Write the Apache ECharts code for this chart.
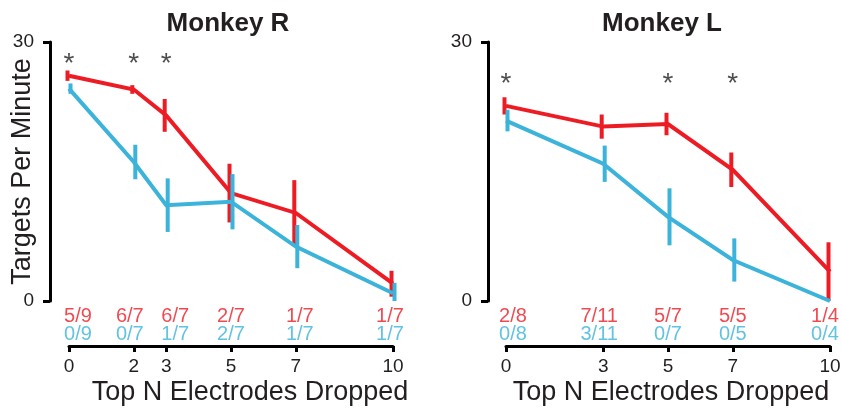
<!DOCTYPE html>
<html>
<head>
<meta charset="utf-8">
<script src="https://cdn.jsdelivr.net/npm/echarts@6/dist/echarts.min.js"></script>
<style>
  html, body { margin: 0; padding: 0; background: #fff; }
  #chart { width: 842px; height: 409px; }
</style>
</head>
<body>
<div id="chart"></div>
<script>
// Monkey R: targets per minute vs. number of top electrodes dropped
const xR = [0, 2, 3, 5, 7, 10];
const redR = [26.1, 24.5, 21.5, 12.5, 10.2, 2.0];
const redErrR = [0.6, 0.5, 1.9, 3.4, 3.8, 1.5];
const blueR = [24.6, 16.1, 11.1, 11.5, 6.3, 0.9];
const blueErrR = [0.6, 2.0, 3.1, 3.2, 2.5, 1.2];
const redCountR = ['5/9', '6/7', '6/7', '2/7', '1/7', '1/7'];
const blueCountR = ['0/9', '0/7', '1/7', '2/7', '1/7', '1/7'];
const sigR = [0, 2, 3];

// Monkey L
const xL = [0, 3, 5, 7, 10];
const redL = [22.6, 20.2, 20.5, 15.2, 3.4];
const redErrL = [1.0, 1.4, 1.3, 2.0, 3.4];
const blueL = [20.9, 15.9, 9.75, 4.75, 0.0];
const blueErrL = [1.25, 2.1, 3.3, 2.5, 0];
const redCountL = ['2/8', '7/11', '5/7', '5/5', '1/4'];
const blueCountL = ['0/8', '3/11', '0/7', '0/5', '0/4'];
const sigL = [0, 5, 7];

const yTicks = [0, 30];
const titles = ['Monkey R', 'Monkey L'];

const RED = '#ED1C24';
const BLUE = '#3BB3DA';
const INK = '#231F20';
const FONT = '"Liberation Sans", Arial, Helvetica, sans-serif';

// horizontal nudges for the count labels so neighbours don't collide
const nudgeR = [9, -4, 9, 0, 4, -3];
const nudgeL = [7, -4, 0, 0, -5];

function lineSeries(idx, xs, ys, color, z) {
  return {
    type: 'line', xAxisIndex: idx, yAxisIndex: idx,
    data: xs.map((x, i) => [x, ys[i]]),
    showSymbol: false, symbol: 'none', silent: true,
    lineStyle: { color: color, width: 4, cap: 'butt', join: 'miter' },
    z: z
  };
}

function errSeries(idx, xs, ys, errs, color, dx, z) {
  return {
    type: 'custom', xAxisIndex: idx, yAxisIndex: idx, silent: true, z: z,
    data: xs.map((x, i) => [x, ys[i], errs[i]]),
    renderItem: function (params, api) {
      const x = api.value(0), y = api.value(1), e = api.value(2);
      if (!e) return null;
      const lo = api.coord([x, Math.max(0, y - e)]);
      const hi = api.coord([x, y + e]);
      return {
        type: 'line',
        shape: { x1: lo[0] + dx, y1: lo[1], x2: hi[0] + dx, y2: hi[1] },
        style: { stroke: color, lineWidth: 4, lineCap: 'butt' }
      };
    }
  };
}

function countSeries(idx, xs, counts, color, dy, nudge) {
  return {
    type: 'scatter', xAxisIndex: idx, yAxisIndex: idx, silent: true,
    symbolSize: 0, z: 5,
    data: xs.map((x, i) => ({
      value: [x, 0],
      label: { offset: [nudge[i], dy] }
    })),
    label: {
      show: true, position: 'inside', color: color,
      fontFamily: FONT, fontSize: 20,
      formatter: (p) => counts[p.dataIndex]
    }
  };
}

function starSeries(idx, xs, yStar) {
  return {
    type: 'scatter', xAxisIndex: idx, yAxisIndex: idx, silent: true,
    symbolSize: 0, z: 5,
    data: xs.map((x) => [x, yStar]),
    label: {
      show: true, position: 'inside', color: INK,
      fontFamily: FONT, fontSize: 28, formatter: '*'
    }
  };
}

function xAxisCfg(idx, ticks, namePad) {
  return {
    type: 'value', gridIndex: idx, min: 0, max: 10, position: 'bottom', offset: 45,
    axisLine: { show: true, onZero: false, lineStyle: { color: '#000', width: 3 } },
    axisTick: { show: true, length: 6, lineStyle: { color: '#000', width: 3 }, customValues: ticks },
    axisLabel: { color: INK, fontFamily: FONT, fontSize: 19, margin: 11, customValues: ticks },
    splitLine: { show: false },
    name: 'Top N Electrodes Dropped', nameLocation: 'middle', nameGap: 33, nameMoveOverlap: false,
    nameTextStyle: { color: INK, fontFamily: FONT, fontSize: 27, padding: namePad }
  };
}

function yAxisCfg(idx, off, withName) {
  const cfg = {
    type: 'value', gridIndex: idx, min: 0, max: 30, interval: 30, position: 'left', offset: off,
    axisLine: { show: true, onZero: false, lineStyle: { color: '#000', width: 3 } },
    axisTick: { show: true, length: 7, lineStyle: { color: '#000', width: 3 }, customValues: yTicks },
    axisLabel: { color: INK, fontFamily: FONT, fontSize: 19, margin: 16, customValues: yTicks },
    splitLine: { show: false }
  };
  if (withName) {
    cfg.name = 'Targets Per Minute';
    cfg.nameLocation = 'middle';
    cfg.nameGap = 14;
    cfg.nameMoveOverlap = false;
    cfg.nameTextStyle = { color: INK, fontFamily: FONT, fontSize: 27 };
  }
  return cfg;
}

const chart = echarts.init(document.getElementById('chart'), null, { renderer: 'canvas' });
chart.setOption({
  animation: false,
  backgroundColor: '#fff',
  title: [
    { text: titles[0], left: 223, top: 6, textAlign: 'center',
      textStyle: { fontFamily: FONT, fontSize: 26, fontWeight: 'bold', color: INK } },
    { text: titles[1], left: 657, top: 6, textAlign: 'center',
      textStyle: { fontFamily: FONT, fontSize: 26, fontWeight: 'bold', color: INK } }
  ],
  grid: [
    { left: 69, width: 324, top: 42, height: 259, containLabel: false, outerBoundsMode: 'none' },
    { left: 506, width: 324, top: 42, height: 259, containLabel: false, outerBoundsMode: 'none' }
  ],
  xAxis: [xAxisCfg(0, xR, [0, 0, 0, 38]), xAxisCfg(1, xL, [0, 0, 0, 6])],
  yAxis: [yAxisCfg(0, 19, true), yAxisCfg(1, 18, false)],
  series: [
    lineSeries(0, xR, redR, RED, 2),
    errSeries(0, xR, redR, redErrR, RED, -1.5, 3),
    lineSeries(0, xR, blueR, BLUE, 4),
    errSeries(0, xR, blueR, blueErrR, BLUE, 1.5, 4),
    countSeries(0, xR, redCountR, RED, 15, nudgeR),
    countSeries(0, xR, blueCountR, BLUE, 33, nudgeR),
    starSeries(0, sigR, 27.4),

    lineSeries(1, xL, redL, RED, 2),
    errSeries(1, xL, redL, redErrL, RED, -1.5, 3),
    lineSeries(1, xL, blueL, BLUE, 4),
    errSeries(1, xL, blueL, blueErrL, BLUE, 1.5, 4),
    countSeries(1, xL, redCountL, RED, 15, nudgeL),
    countSeries(1, xL, blueCountL, BLUE, 33, nudgeL),
    starSeries(1, sigL, 25.1)
  ]
});
</script>
</body>
</html>
